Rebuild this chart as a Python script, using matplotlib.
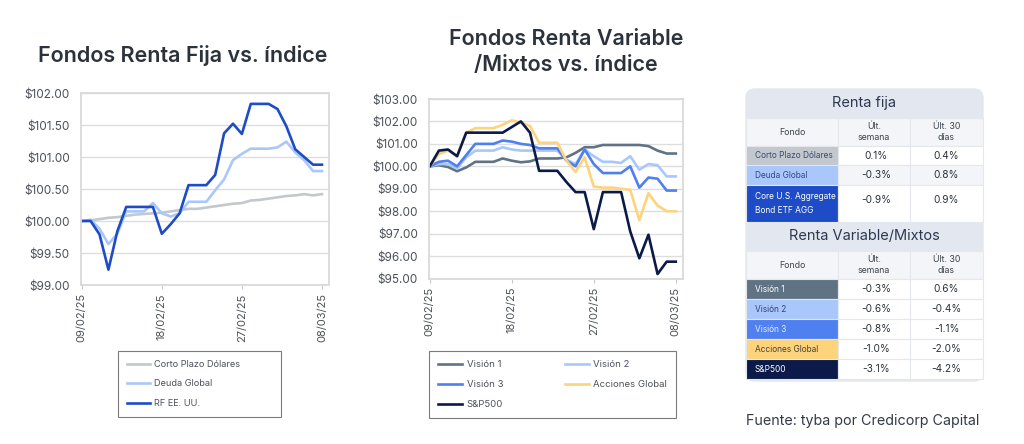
import numpy as np
import pandas as pd
import matplotlib.pyplot as plt
import matplotlib.dates as mdates
from matplotlib.ticker import FuncFormatter
from matplotlib.patches import Rectangle, FancyBboxPatch

plt.rcParams['font.family'] = ['Inter', 'DejaVu Sans']

fechas = pd.date_range('2025-02-09', '2025-03-08', freq='D')
tick_fechas = pd.to_datetime(['2025-02-09', '2025-02-18', '2025-02-27', '2025-03-08'])

# renta fija
corto_plazo = [100.00, 100.01, 100.03, 100.05, 100.06, 100.08, 100.10, 100.11, 100.12, 100.13,
               100.15, 100.17, 100.19, 100.19, 100.21, 100.23, 100.25, 100.27, 100.28, 100.32,
               100.33, 100.35, 100.37, 100.39, 100.40, 100.42, 100.40, 100.42]
deuda_global = [100.00, 100.02, 99.88, 99.64, 99.80, 100.15, 100.15, 100.15, 100.28, 100.12,
                100.07, 100.12, 100.30, 100.30, 100.30, 100.48, 100.65, 100.95, 101.05, 101.13,
                101.13, 101.13, 101.15, 101.24, 101.07, 100.95, 100.78, 100.78]
rf_eeuu = [100.00, 100.00, 99.79, 99.24, 99.84, 100.22, 100.22, 100.22, 100.22, 99.80,
           99.95, 100.12, 100.56, 100.56, 100.56, 100.72, 101.37, 101.52, 101.36, 101.83,
           101.83, 101.83, 101.75, 101.48, 101.12, 101.00, 100.88, 100.88]

# renta variable / mixtos
vision1 = [100.00, 100.05, 99.97, 99.78, 99.95, 100.20, 100.20, 100.20, 100.35, 100.25,
           100.18, 100.22, 100.35, 100.35, 100.35, 100.40, 100.60, 100.85, 100.85, 100.95,
           100.95, 100.95, 100.95, 100.95, 100.90, 100.70, 100.57, 100.57]
vision2 = [100.00, 100.10, 100.10, 99.90, 100.40, 100.70, 100.70, 100.70, 100.85, 100.75,
           100.70, 100.70, 100.70, 100.70, 100.70, 100.30, 100.10, 100.75, 100.45, 100.20,
           100.20, 100.15, 100.45, 99.85, 100.10, 100.05, 99.55, 99.55]
vision3 = [100.00, 100.20, 100.25, 100.00, 100.50, 101.00, 101.00, 101.00, 101.15, 101.10,
           101.00, 100.95, 100.80, 100.80, 100.80, 100.25, 100.00, 100.75, 100.10, 99.70,
           99.70, 99.70, 100.00, 99.05, 99.50, 99.45, 98.92, 98.92]
acciones_global = [100.00, 100.55, 100.70, 100.45, 101.50, 101.70, 101.70, 101.70, 101.85, 102.05,
                   101.95, 101.80, 101.05, 101.05, 101.05, 100.25, 99.75, 100.40, 99.10, 99.05,
                   99.05, 99.00, 98.95, 97.60, 98.80, 98.25, 98.00, 98.00]
sp500 = [100.00, 100.70, 100.75, 100.45, 101.50, 101.50, 101.50, 101.50, 101.50, 101.75,
         102.00, 101.50, 99.80, 99.80, 99.80, 99.30, 98.85, 98.85, 97.20, 98.85,
         98.85, 98.85, 97.10, 95.90, 96.95, 95.20, 95.75, 95.75]

# tabla
rf_fondos = ['Corto Plazo Dólares', 'Deuda Global', 'Core U.S. Aggregate\nBond ETF AGG']
rf_semana = ['0.1%', '-0.3%', '-0.9%']
rf_30d = ['0.4%', '0.8%', '0.9%']
rv_fondos = ['Visión 1', 'Visión 2', 'Visión 3', 'Acciones Global', 'S&P500']
rv_semana = ['-0.3%', '-0.6%', '-0.8%', '-1.0%', '-3.1%']
rv_30d = ['0.6%', '-0.4%', '-1.1%', '-2.0%', '-4.2%']

c_corto, c_deuda, c_rf = '#c3c8ce', '#a9c7fb', '#1d4cc6'
c_v1, c_v2, c_v3, c_acc, c_sp = '#5f7384', '#a9c7fb', '#4f80ef', '#fdd37c', '#0b1a49'

txt = '#2b323b'
fig = plt.figure(figsize=(10.24, 4.44), dpi=100)
fig.patch.set_facecolor('white')


def estilo(ax, ymin, ymax, step):
    ax.set_ylim(ymin, ymax)
    ax.set_yticks(np.arange(ymin, ymax + step / 2, step))
    ax.yaxis.set_major_formatter(FuncFormatter(lambda v, p: f'${v:,.2f}'))
    ax.set_xlim(fechas[0] - pd.Timedelta(hours=2), fechas[-1] + pd.Timedelta(hours=19))
    ax.set_xticks(tick_fechas)
    ax.xaxis.set_major_formatter(mdates.DateFormatter('%d/%m/%y'))
    ax.tick_params(axis='x', rotation=90, labelsize=8, colors='#4b5159', length=3, pad=3)
    ax.tick_params(axis='x', color='#c8c8c8')
    ax.tick_params(axis='y', labelsize=8.5, colors='#4b5159', length=0, pad=8)
    ax.grid(axis='y', color='#dedede', lw=1)
    ax.set_axisbelow(True)
    for s in ax.spines.values():
        s.set_color('#dadada')
        s.set_linewidth(1.3)


def leyenda(ax, handles, x, w, ncol, fs, colsp=1.0, expand=True):
    anchor = (x / 1024, 1 - 351 / 444 - 0.01, w / 1024, 0.01) if expand else (x / 1024, 1 - 351 / 444)
    leg = ax.legend(handles=handles, loc='upper left', bbox_to_anchor=anchor,
                    bbox_transform=fig.transFigure, mode='expand' if expand else None,
                    ncol=ncol, fontsize=fs,
                    frameon=True, fancybox=False, handlelength=2.5, handletextpad=0.5,
                    labelspacing=1.15, borderpad=0.95, borderaxespad=0, columnspacing=colsp)
    leg.get_frame().set_edgecolor('#5a5a5a')
    leg.get_frame().set_linewidth(0.8)
    for t in leg.get_texts():
        t.set_color('#4b5159')
    return leg


ax1 = fig.add_axes([81 / 1024, 1 - 285 / 444, 248 / 1024, 192 / 444])
l_cp, = ax1.plot(fechas, corto_plazo, color=c_corto, lw=1.9, label='Corto Plazo Dólares')
l_dg, = ax1.plot(fechas, deuda_global, color=c_deuda, lw=1.9, label='Deuda Global')
l_rf, = ax1.plot(fechas, rf_eeuu, color=c_rf, lw=1.9, label='RF EE. UU.')
estilo(ax1, 99, 102, 0.5)
fig.text(183 / 1024, 1 - 55 / 444, 'Fondos Renta Fija vs. índice', ha='center', va='center',
         fontsize=15.5, fontweight='semibold', color=txt)
leyenda(ax1, [l_cp, l_dg, l_rf], 118, 163, 1, 6.6)

ax2 = fig.add_axes([429 / 1024, 1 - 278.5 / 444, 254 / 1024, 179.5 / 444])
l_v1, = ax2.plot(fechas, vision1, color=c_v1, lw=1.9, label='Visión 1')
l_v2, = ax2.plot(fechas, vision2, color=c_v2, lw=1.9, label='Visión 2')
l_v3, = ax2.plot(fechas, vision3, color=c_v3, lw=1.9, label='Visión 3')
l_ac, = ax2.plot(fechas, acciones_global, color=c_acc, lw=1.9, label='Acciones Global')
l_sp, = ax2.plot(fechas, sp500, color=c_sp, lw=1.9, label='S&P500')
estilo(ax2, 95, 103, 1)
fig.text(566 / 1024, 1 - 52 / 444, 'Fondos Renta Variable\n/Mixtos vs. índice', ha='center',
         va='center', fontsize=15.5, fontweight='semibold', color=txt, linespacing=1.4)
leyenda(ax2, [l_v1, l_v3, l_sp, l_v2, l_ac], 429, 260, 2, 6.9, colsp=6.4, expand=False)

# tabla en coordenadas de pixel
tab = fig.add_axes([0, 0, 1, 1], zorder=-1)
tab.set_xlim(0, 1024)
tab.set_ylim(444, 0)
tab.axis('off')

x0, x1, x2, x3 = 746, 838, 910, 983
head_bg = '#e3e7ef'
colh_bg = '#f3f5f8'
line_c = '#e4e7ec'

tab.add_patch(FancyBboxPatch((x0, 89), x3 - x0, 292, boxstyle='round,pad=0,rounding_size=9',
                             fc=head_bg, ec=line_c, lw=1))


def seccion(y_head, titulo, fondos, semana, d30, colores, colores_txt, alturas):
    tab.text((x0 + x3) / 2, y_head + 14, titulo, ha='center', va='center', fontsize=10.5,
             color='#2d3852')
    y = y_head + 29
    for xa, xb in [(x0, x1), (x1, x2), (x2, x3)]:
        tab.add_patch(Rectangle((xa, y), xb - xa, 28, fc=colh_bg, ec=line_c, lw=0.8))
    tab.text((x0 + x1) / 2, y + 14, 'Fondo', ha='center', va='center', fontsize=6.3, color='#3c434c')
    tab.text((x1 + x2) / 2, y + 14, 'Últ.\nsemana', ha='center', va='center', fontsize=6.3,
             color='#3c434c', linespacing=1.2)
    tab.text((x2 + x3) / 2, y + 14, 'Últ. 30\ndías', ha='center', va='center', fontsize=6.3,
             color='#3c434c', linespacing=1.2)
    y += 28
    for i, nombre in enumerate(fondos):
        h = alturas[i]
        bg = '#f3f5f8' if (i % 2 == 1 and len(fondos) == 3) else 'white'
        tab.add_patch(Rectangle((x0, y), x1 - x0, h, fc=colores[i], ec=line_c, lw=0.8))
        tab.add_patch(Rectangle((x1, y), x2 - x1, h, fc=bg, ec=line_c, lw=0.8))
        tab.add_patch(Rectangle((x2, y), x3 - x2, h, fc=bg, ec=line_c, lw=0.8))
        tab.text(x0 + 9, y + h / 2, nombre, ha='left', va='center', fontsize=6.0,
                 color=colores_txt[i], linespacing=1.6)
        yv = y + min(h / 2, 15)
        tab.text((x1 + x2) / 2 + 2, yv, semana[i], ha='center', va='center', fontsize=7.3, color='#2b323b')
        tab.text((x2 + x3) / 2, yv, d30[i], ha='center', va='center', fontsize=7.3, color='#2b323b')
        y += h
    return y


y_end = seccion(89, 'Renta fija', rf_fondos, rf_semana, rf_30d,
                [c_corto, c_deuda, c_rf], ['#3b4a6e', '#34478a', 'white'], [19, 20, 37])
tab.add_patch(Rectangle((x0, y_end), x3 - x0, 30, fc=head_bg, ec='none'))
seccion(y_end, 'Renta Variable/Mixtos', rv_fondos, rv_semana, rv_30d,
        [c_v1, c_v2, c_v3, c_acc, c_sp], ['white', '#34436a', '#e8eefc', '#4a4330', 'white'],
        [20, 20, 20, 20, 20])

fig.text(746 / 1024, 1 - 421 / 444, 'Fuente: tyba por Credicorp Capital', ha='left', va='center',
         fontsize=10.3, color='#333a45')

fig.savefig('out.png', dpi=100, facecolor='white')
